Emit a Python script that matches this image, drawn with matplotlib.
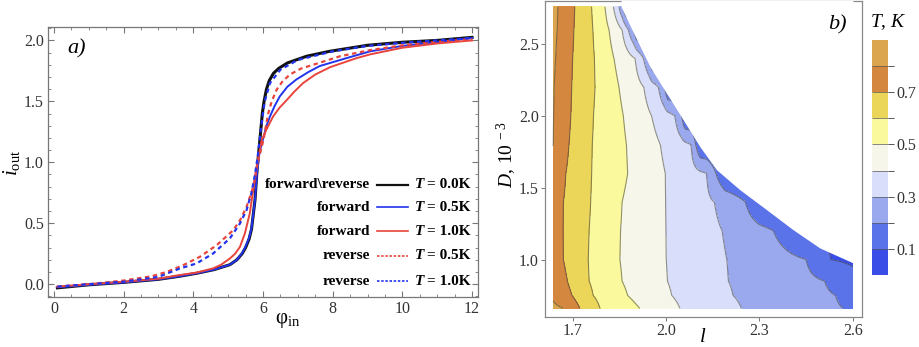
import numpy as np
import matplotlib
matplotlib.use("Agg")
import matplotlib.pyplot as plt
from matplotlib.colors import ListedColormap, BoundaryNorm

plt.rcParams["font.family"] = ["Liberation Serif", "DejaVu Serif"]
plt.rcParams["mathtext.fontset"] = "custom"
plt.rcParams["mathtext.rm"] = "Liberation Serif"
plt.rcParams["mathtext.it"] = "Liberation Serif:italic"
plt.rcParams["mathtext.bf"] = "Liberation Serif:bold"

# ── panel a: i_out(phi_in) curves ──────────────────────────────────────
phi_t00 = [0.1, 1, 2, 3, 3.6, 4.1, 4.6, 5.05, 5.25, 5.4, 5.5, 5.6, 5.67, 5.77, 5.83,
           5.9, 5.98, 6.03, 6.1, 6.18, 6.3, 6.45, 6.7, 7.0, 7.25, 7.9, 9.0, 10.0,
           11.0, 12.0]
i_t00 = [-0.03, -0.005, 0.015, 0.04, 0.065, 0.09, 0.12, 0.16, 0.2, 0.25, 0.3, 0.37,
         0.45, 0.69, 0.94, 1.15, 1.40, 1.5, 1.6, 1.67, 1.73, 1.77, 1.815, 1.845,
         1.87, 1.91, 1.96, 1.985, 2.0, 2.025]

phi_fwd05 = [0.1, 1, 2, 3, 3.6, 4.1, 4.6, 5.05, 5.25, 5.4, 5.5, 5.6, 5.67, 5.77, 5.83,
             5.9, 6.01, 6.1, 6.2, 6.33, 6.48, 6.7, 6.96, 7.3, 7.63, 8.4, 9.07, 10.0,
             11.0, 12.0]
i_fwd05 = [-0.025, -0.005, 0.015, 0.04, 0.065, 0.09, 0.12, 0.16, 0.2, 0.255, 0.31,
           0.38, 0.46, 0.69, 0.92, 1.08, 1.2, 1.3, 1.376, 1.46, 1.54, 1.62, 1.68,
           1.74, 1.79, 1.855, 1.91, 1.955, 1.985, 2.02]

phi_fwd10 = [0.1, 1, 2, 3, 3.6, 4.09, 4.57, 4.8, 5.05, 5.2, 5.34, 5.48, 5.62, 5.72,
             5.82, 5.96, 6.1, 6.29, 6.48, 6.68, 6.9, 7.15, 7.5, 7.92, 8.69, 9.07, 10.0,
             11.0, 12.0]
i_fwd10 = [-0.02, 0.0, 0.02, 0.045, 0.075, 0.095, 0.13, 0.16, 0.211, 0.25, 0.307,
           0.417, 0.58, 0.773, 0.965, 1.18, 1.27, 1.376, 1.45, 1.51, 1.58, 1.65, 1.72,
           1.78, 1.855, 1.885, 1.94, 1.975, 2.0]

phi_rev05 = [0.1, 1, 2, 2.8, 3.23, 3.71, 4.19, 4.67, 5.15, 5.35, 5.53, 5.72, 5.85, 6.01,
             6.15, 6.25, 6.39, 6.55, 6.77, 7.1, 7.44, 8.21, 9.07, 10.0, 11.0, 12.0]
i_rev05 = [-0.02, 0.0, 0.03, 0.065, 0.1, 0.156, 0.225, 0.32, 0.444, 0.53, 0.636, 0.80,
           1.0, 1.18, 1.40, 1.50, 1.595, 1.66, 1.72, 1.77, 1.80, 1.87, 1.92, 1.96,
           1.99, 2.01]

phi_rev10 = [0.1, 1, 2, 3, 3.615, 4.09, 4.57, 5.05, 5.34, 5.53, 5.67, 5.77, 5.85, 5.95,
             6.05, 6.2, 6.5, 7.0, 8.0, 9.0, 10.0, 11.0, 12.0]
i_rev10 = [-0.02, 0.0, 0.02, 0.06, 0.129, 0.17, 0.252, 0.376, 0.499, 0.609, 0.75, 0.9,
           1.05, 1.3, 1.5, 1.65, 1.76, 1.84, 1.91, 1.955, 1.98, 2.0, 2.02]

legend_left = ["forward\\reverse", "forward", "forward", "reverse", "reverse"]
legend_right = ["0.0K", "0.5K", "1.0K", "0.5K", "1.0K"]

# ── panel b: T(l, D) read as contour crossings per D row ───────────────
D_rows = [2.76, 2.6, 2.4, 2.2, 2.0, 1.8, 1.6, 1.4, 1.2, 1.0, 0.85, 0.75, 0.66]
levels_T = [0.8, 0.7, 0.6, 0.5, 0.4, 0.3, 0.2, 0.1]
l_T08 = [1.652, 1.650, 1.645, 1.640, 1.638, 1.637, 1.630, 1.620, 1.610, 1.610, 1.610, 1.625, 1.669]
l_T07 = [1.706, 1.703, 1.699, 1.696, 1.693, 1.687, 1.677, 1.669, 1.668, 1.669, 1.682, 1.697, 1.722]
l_T06 = [1.760, 1.764, 1.769, 1.771, 1.766, 1.762, 1.760, 1.757, 1.752, 1.749, 1.752, 1.765, 1.787]
l_T05 = [1.803, 1.816, 1.832, 1.848, 1.862, 1.872, 1.876, 1.858, 1.853, 1.851, 1.858, 1.876, 1.915]
l_T04 = [1.830, 1.858, 1.900, 1.928, 1.953, 1.981, 1.997, 1.998, 1.999, 2.000, 2.004, 2.018, 2.044]
l_T03 = [1.848, 1.878, 1.927, 1.975, 2.028, 2.080, 2.130, 2.155, 2.180, 2.195, 2.200, 2.215, 2.242]
l_T02 = [1.860, 1.895, 1.945, 1.995, 2.050, 2.095, 2.160, 2.255, 2.345, 2.450, 2.510, 2.545, 2.569]
l_T01 = [1.870, 1.905, 1.955, 2.005, 2.060, 2.110, 2.190, 2.300, 2.430, 2.530, 2.640, 2.700, 2.750]

# edge of the computed region (white above it)
boundary_l = [1.855, 1.89, 1.948, 2.001, 2.055, 2.108, 2.162, 2.237, 2.323, 2.408, 2.494, 2.601]
boundary_D = [2.76, 2.6, 2.342, 2.158, 1.972, 1.787, 1.625, 1.486, 1.347, 1.208, 1.081, 0.977]

level_colors = ["#3a4de6", "#5b73e8", "#9aa8ee", "#d9defa", "#f6f7ea",
                "#fbf99e", "#ebd65a", "#d4883f", "#dba54f"]

fig = plt.figure(figsize=(9.19, 3.47), dpi=100)

# ---------------------------------------------------------------- panel a
ax1 = fig.add_axes([48 / 919, 50 / 347, 430 / 919, 270 / 347])
red, blue = "#e8453c", "#2233ee"
ax1.plot(phi_t00, i_t00, color="#111111", lw=2.2, zorder=3)
ax1.plot(phi_fwd05, i_fwd05, color=blue, lw=1.4, zorder=4)
ax1.plot(phi_fwd10, i_fwd10, color=red, lw=1.4, zorder=4)
ax1.plot(phi_rev05, i_rev05, color=red, lw=1.6, ls=(0, (2.0, 1.6)), zorder=5)
ax1.plot(phi_rev10, i_rev10, color=blue, lw=1.6, ls=(0, (2.0, 1.6)), zorder=6)

ax1.set_xlim(-0.17, 12.17)
ax1.set_ylim(-0.105, 2.11)
ax1.set_xticks(np.arange(0, 13, 2))
ax1.set_xticks(np.arange(0, 12.01, 0.5), minor=True)
ax1.set_yticks([0.0, 0.5, 1.0, 1.5, 2.0])
ax1.set_yticks(np.arange(-0.1, 2.11, 0.1), minor=True)
ax1.set_yticklabels(["0.0", "0.5", "1.0", "1.5", "2.0"])
ax1.tick_params(which="both", direction="in", top=True, right=True, color="#777777",
                labelsize=11.5, labelcolor="#333333", pad=3)
ax1.tick_params(which="major", length=4, width=0.8)
ax1.tick_params(which="minor", length=2, width=0.6)
for s in ax1.spines.values():
    s.set_color("#777777")
    s.set_linewidth(0.9)

ax1.text(0.067, 0.918, "a)", transform=ax1.transAxes, fontsize=16, style="italic",
         ha="center", va="center")

# hand-made legend: label | line sample | T value
leg_y = [0.415, 0.333, 0.244, 0.152, 0.059]
leg_style = [("#111111", "-", 1.6), (blue, "-", 1.2), (red, "-", 1.2),
             (red, (0, (1.5, 1.0)), 1.2), (blue, (0, (1.5, 1.0)), 1.2)]
for lab, val, y, (c, ls, lw) in zip(legend_left, legend_right, leg_y, leg_style):
    ax1.text(0.749, y, lab, transform=ax1.transAxes, ha="right", va="center",
             fontsize=11, fontweight="bold")
    ax1.plot([0.765, 0.837], [y, y], transform=ax1.transAxes, color=c, ls=ls, lw=lw,
             clip_on=False)
    ax1.text(0.853, y, "T", transform=ax1.transAxes, ha="left", va="center",
             fontsize=11, fontweight="bold", style="italic")
    ax1.annotate("= " + val, xy=(0.853, y), xycoords="axes fraction", xytext=(9, 0),
                 textcoords="offset points", ha="left", va="center", fontsize=11,
                 fontweight="bold", annotation_clip=False)

fig.text(12 / 919, 1 - 163 / 347, r"$i_{\mathrm{out}}$", rotation=90, ha="center",
         va="center", fontsize=15)
fig.text(288 / 919, 1 - 321 / 347, r"$\mathrm{φ}_{\mathrm{in}}$", ha="center",
         va="center", fontsize=15)

# ---------------------------------------------------------------- panel b
ax2 = fig.add_axes([545 / 919, 30 / 347, 317 / 919, 316 / 347])
l_grid = np.linspace(1.636, 2.600, 400)
crossings = np.array([l_T08, l_T07, l_T06, l_T05, l_T04, l_T03, l_T02, l_T01]).T
field = []
for row in crossings:
    xp = np.concatenate([[1.50], row, [3.0]])
    fp = np.concatenate([[0.9], levels_T, [0.0]])
    field.append(np.interp(l_grid, xp, fp))
field = np.array(field)
LL, DD = np.meshgrid(l_grid, D_rows)

bounds = np.round(np.arange(0, 0.91, 0.1), 2)
cmap = ListedColormap(level_colors)
norm = BoundaryNorm(bounds, cmap.N)
cf = ax2.contourf(LL, DD, field, levels=bounds, cmap=cmap, norm=norm, zorder=1)
ax2.contour(LL, DD, field, levels=bounds[1:-1], colors="#3a3a3a", linewidths=0.8,
            alpha=0.55, zorder=2)
ax2.fill_between(boundary_l, boundary_D, 2.85, color="white", lw=0, zorder=3)

ax2.set_xlim(1.61, 2.63)
ax2.set_ylim(0.60, 2.80)
ax2.set_xticks([1.7, 2.0, 2.3, 2.6])
ax2.set_yticks([1.0, 1.5, 2.0, 2.5])
ax2.tick_params(direction="out", length=3, width=0.7, color="#777777", labelsize=11.5,
                labelcolor="#333333", pad=1.5)
for s in ax2.spines.values():
    s.set_color("#888888")
    s.set_linewidth(0.9)
ax2.text(0.921, 0.924, "b)", transform=ax2.transAxes, fontsize=16, style="italic",
         ha="center", va="center")

fig.text(507 / 919, 1 - 155 / 347, r"$D$, 10$^{\ -3}$", rotation=90, ha="center",
         va="center", fontsize=14)
fig.text(703 / 919, 1 - 338 / 347, r"$l$", ha="center", va="center", fontsize=15)

# colorbar
cax = fig.add_axes([872 / 919, 72 / 347, 16 / 919, 235 / 347])
cb = fig.colorbar(cf, cax=cax, ticks=[0.1, 0.3, 0.5, 0.7], drawedges=True)
cb.outline.set_visible(False)
cb.dividers.set_color("#555555")
cb.dividers.set_linewidth(0.7)
cb.dividers.set_alpha(0.7)
cb.ax.set_yticks([0.2, 0.4, 0.6, 0.8], minor=True)
cb.ax.set_yticklabels(["0.1", "0.3", "0.5", "0.7"])
cb.ax.tick_params(which="both", direction="out", length=4, width=0.7, color="#555555",
                  labelsize=11.5, labelcolor="#333333", pad=2)
fig.text(888 / 919, 1 - 22 / 347, r"$T$, $K$", ha="center", va="center", fontsize=14)

fig.savefig("out.png", dpi=100)
